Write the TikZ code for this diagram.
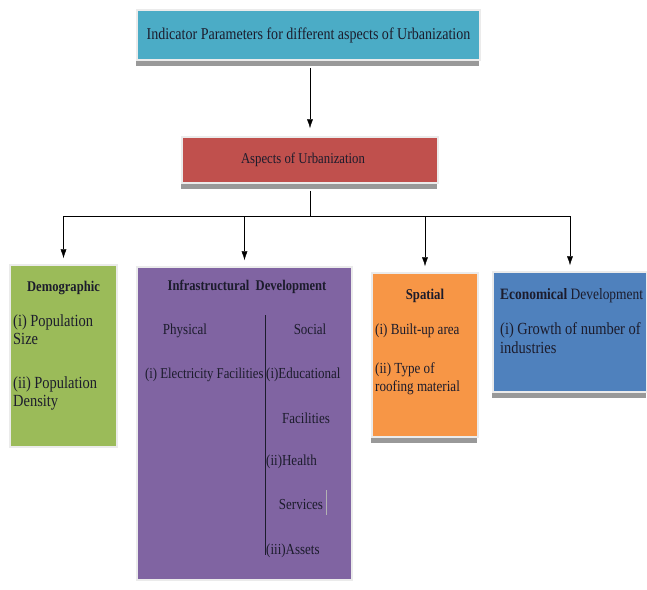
\documentclass[tikz,border=0pt]{standalone}
\usepackage{fontspec}
\setmainfont{Liberation Serif}[FakeStretch=0.85]
\usetikzlibrary{arrows.meta,shadows}
\definecolor{topblue}{HTML}{4BACC6}
\definecolor{aspred}{HTML}{C0504D}
\definecolor{demogreen}{HTML}{9BBB59}
\definecolor{infrapurple}{HTML}{8064A2}
\definecolor{spatorange}{HTML}{F79646}
\definecolor{econblue}{HTML}{4F81BD}
\definecolor{ink}{HTML}{1C1C2C}
\newcommand{\fs}[1]{\fontsize{#1}{#1}\selectfont}
\begin{document}
\begin{tikzpicture}[x=1pt, y=-1pt, >={Latex[length=9pt,width=6pt]},
  box/.style={draw=black!8, line width=1.5pt, inner sep=0pt, text=ink},
  shbox/.style={box, drop shadow={shadow xshift=-1pt, shadow yshift=-6pt, fill=black!40, opacity=1}},
  txt/.style={inner sep=0pt, anchor=base west, text=ink, font=\fs{17}},
  hd/.style={inner sep=0pt, anchor=base, text=ink, font=\fs{14.8}\bfseries}]
  \useasboundingbox (0,0) rectangle (647,589);
  \node[shbox, fill=topblue, minimum width=343pt, minimum height=50pt, font=\fs{16.5}] (top) at (308.5,35) {Indicator Parameters for different aspects of Urbanization};
  \node[shbox, fill=aspred, minimum width=256pt, minimum height=46pt, font=\fs{15}] (aspects) at (310,160) {\hspace*{-14pt}Aspects of Urbanization};
  \node[box, fill=demogreen, minimum width=107pt, minimum height=182pt] (demo) at (63.5,356) {};
  \node[box, fill=infrapurple, minimum width=215pt, minimum height=313pt] (infra) at (244.5,423.5) {};
  \node[shbox, fill=spatorange, minimum width=106pt, minimum height=164pt] (spat) at (425,355) {};
  \node[shbox, fill=econblue, minimum width=154pt, minimum height=120pt] (econ) at (570,332) {};
  \coordinate (bar) at (311,216);
  \path[->]
    (aspects.north |- top.south) edge[shorten <=7pt, shorten >=8pt] (aspects.north)
    ;
  \path
    (aspects.south) edge[shorten <=7pt] (aspects.south |- bar)
    (demo.north |- bar) edge (econ.north |- bar)
    ;
  \foreach \n in {demo,infra,spat,econ}
    \path[->] (\n.north |- bar) edge[shorten >=6pt] (\n.north);
  % demographic
  \node[hd] (demoT) at (63.5,291) {Demographic};
  \node[txt] (demo1) at (13,326) {(i) Population};
  \node[txt] (demo2) at (13,344) {Size};
  \node[txt] (demo3) at (13,388) {(ii) Population};
  \node[txt] (demo4) at (13,406) {Density};
  % infrastructural
  \node[hd] (infraT) at (247,290) {Infrastructural\ \ Development};
  \begin{scope}[txt/.append style={font=\fs{15.3}}]
  \node[txt, anchor=base] (phys) at (185,334) {Physical};
  \node[txt, anchor=base] (soc) at (310,334) {Social};
  \node[txt, font=\fs{15}] (phys1) at (145,378) {(i) Electricity Facilities};
  \node[txt] (soc1) at (266,378) {(i)Educational};
  \node[txt, anchor=base] (soc2) at (306,423) {Facilities};
  \node[txt] (soc3) at (266,465) {(ii)Health};
  \node[txt, anchor=base] (soc4) at (301,509) {Services};
  \node[txt] (soc5) at (266,554) {(iii)Assets};
  \end{scope}
  \draw[ink, line width=0.8pt] (265,315) -- (265,555);
  \draw[black!30, line width=0.8pt] (326,490) -- (326,515);
  % spatial
  \begin{scope}[txt/.append style={font=\fs{15.4}}]
  \node[hd, font=\fs{15}\bfseries] (spatT) at (425,299) {Spatial};
  \node[txt] (spat1) at (375,334) {(i) Built-up area};
  \node[txt] (spat2) at (375,373) {(ii) Type of};
  \node[txt] (spat3) at (375,391) {roofing material};
  \end{scope}
  % economical
  \node[txt, font=\fs{15.8}] (econT) at (500,299) {\textbf{Economical} Development};
  \node[txt] (econ1) at (500,334) {(i) Growth of number of};
  \node[txt] (econ2) at (500,353) {industries};
\end{tikzpicture}
\end{document}
